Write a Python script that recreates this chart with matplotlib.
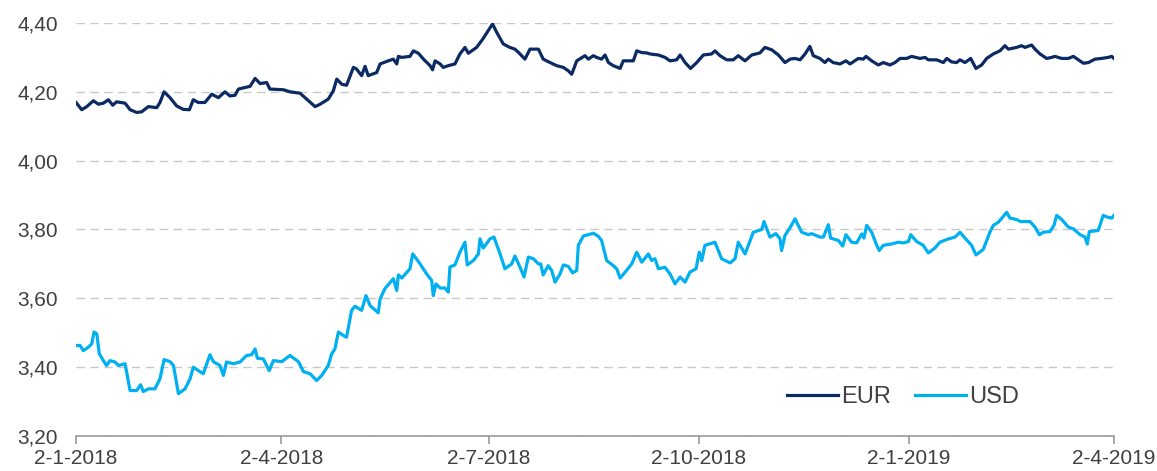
import matplotlib
matplotlib.use("Agg")
import matplotlib.pyplot as plt
import matplotlib.ticker as mticker
import pandas as pd

start_date = "2018-01-02"

eur_days = [0, 2.5, 4.7, 7.6, 9.8, 12.0, 14.2, 16.1, 17.8, 21.5, 23.7, 26.6, 28.8, 31.7, 35.4, 36.8,
            38.6, 41.2, 44.1, 47.0, 49.7, 51.4, 53.6, 56.5, 59.5, 62.4, 65.3, 67.5, 69.7, 71.2, 76.3,
            78.5, 80.7, 83.6, 85.0, 90.9, 93.8, 98.2, 101.1, 104.8, 107.0, 110.6, 112.8, 114.3, 116.5,
            118.6, 121.6, 123.0, 125.2, 126.7, 128.1, 131.8, 133.3, 136.9, 139.1, 140.6, 141.3, 142.8,
            146.4, 147.9, 150.1, 152.3, 155.2, 156.3, 157.4, 159.6, 161.0, 163.2, 166.1, 168.3, 170.5,
            172.0, 175.6, 178.5, 180.7, 182.6, 184.4, 187.3, 190.2, 192.4, 193.9, 196.8, 199.0, 202.7,
            204.8, 207.8, 210.7, 213.6, 215.8, 217.3, 219.5, 223.1, 224.6, 226.8, 228.2, 230.4, 231.9,
            233.4, 235.5, 238.5, 239.9, 244.3, 245.8, 248.0, 250.2, 251.6, 255.3, 258.2, 260.4, 263.3,
            264.8, 267.0, 269.4, 272.1, 275.0, 278.6, 280.1, 282.3, 285.2, 288.1, 290.3, 293.3, 296.2,
            299.8, 302.0, 305.0, 307.9, 310.8, 313.0, 315.2, 317.4, 319.6, 321.7, 323.2, 326.1, 328.3,
            329.8, 331.9, 334.9, 337.5, 339.3, 340.7, 342.9, 345.1, 346.3, 348.8, 351.7, 353.9, 356.8,
            359.0, 361.2, 364.1, 366.3, 370.0, 372.2, 373.6, 377.3, 380.2, 381.7, 383.8, 386.0, 387.5,
            389.7, 392.2, 394.5, 397.0, 399.2, 402.1, 405.0, 407.2, 408.7, 412.3, 414.5, 416.0, 418.9,
            420.4, 422.6, 425.5, 427.7, 429.1, 432.1, 435.0, 437.2, 439.4, 441.6, 443.8, 446.7, 449.6,
            452.5, 454.0, 455.0]
eur_values = [4.169, 4.148, 4.157, 4.174, 4.164, 4.167, 4.177, 4.161, 4.171, 4.167, 4.148, 4.140, 4.142,
              4.157, 4.154, 4.169, 4.200, 4.183, 4.159, 4.149, 4.148, 4.177, 4.169, 4.169, 4.193, 4.183,
              4.200, 4.188, 4.190, 4.208, 4.216, 4.239, 4.224, 4.227, 4.208, 4.206, 4.200, 4.196, 4.179,
              4.157, 4.164, 4.179, 4.203, 4.237, 4.222, 4.219, 4.271, 4.266, 4.247, 4.274, 4.247, 4.256,
              4.281, 4.290, 4.295, 4.281, 4.303, 4.300, 4.303, 4.319, 4.312, 4.295, 4.276, 4.264, 4.290,
              4.281, 4.271, 4.276, 4.281, 4.310, 4.329, 4.312, 4.329, 4.355, 4.378, 4.397, 4.373, 4.339,
              4.329, 4.324, 4.315, 4.295, 4.324, 4.324, 4.295, 4.285, 4.276, 4.271, 4.261, 4.251, 4.290,
              4.305, 4.295, 4.305, 4.300, 4.295, 4.307, 4.285, 4.276, 4.268, 4.290, 4.290, 4.319, 4.314,
              4.313, 4.310, 4.307, 4.300, 4.290, 4.293, 4.307, 4.285, 4.268, 4.285, 4.307, 4.310, 4.319,
              4.305, 4.293, 4.293, 4.305, 4.290, 4.307, 4.313, 4.329, 4.322, 4.307, 4.285, 4.295, 4.297,
              4.293, 4.310, 4.332, 4.305, 4.297, 4.285, 4.295, 4.285, 4.281, 4.290, 4.281, 4.287, 4.297,
              4.295, 4.303, 4.290, 4.278, 4.285, 4.278, 4.285, 4.297, 4.297, 4.303, 4.297, 4.300, 4.293,
              4.293, 4.285, 4.297, 4.287, 4.285, 4.293, 4.285, 4.297, 4.268, 4.278, 4.297, 4.310, 4.319,
              4.334, 4.324, 4.329, 4.334, 4.329, 4.336, 4.324, 4.310, 4.297, 4.300, 4.303, 4.297, 4.297,
              4.303, 4.293, 4.283, 4.285, 4.295, 4.297, 4.300, 4.303, 4.297]

usd_days = [0, 1.8, 3.2, 5.4, 6.9, 7.9, 9.1, 10.2, 12.0, 13.4, 14.9, 17.1, 18.6, 21.5, 23.7, 26.6, 28.3,
            29.5, 31.7, 34.6, 36.8, 38.6, 41.2, 42.7, 44.9, 47.8, 50.0, 51.4, 53.6, 55.8, 58.7, 60.2,
            63.1, 64.6, 66.0, 69.0, 71.9, 74.8, 77.0, 78.5, 79.5, 82.1, 84.7, 86.5, 90.2, 93.8, 97.5,
            99.7, 102.6, 105.5, 107.7, 110.6, 112.1, 113.5, 115.0, 117.2, 118.6, 120.8, 122.3, 125.2,
            127.1, 128.9, 132.5, 133.3, 135.4, 139.1, 140.6, 141.3, 142.8, 146.4, 147.6, 150.1, 153.7,
            155.9, 156.6, 157.8, 159.6, 161.7, 163.2, 163.9, 166.1, 168.3, 170.5, 171.5, 174.2, 176.4,
            177.1, 178.5, 181.5, 183.2, 185.9, 188.0, 191.0, 192.4, 194.6, 196.4, 198.3, 200.5, 202.7,
            203.7, 204.8, 207.0, 208.5, 210.0, 212.2, 213.6, 215.8, 217.7, 219.5, 220.2, 222.4, 224.6,
            226.8, 229.0, 230.4, 232.6, 235.5, 237.0, 238.5, 240.7, 243.6, 245.8, 248.0, 250.9, 252.3,
            253.8, 255.3, 258.2, 260.4, 262.6, 264.8, 267.0, 269.1, 271.8, 273.2, 274.3, 275.7, 280.1,
            283.0, 286.7, 288.9, 290.3, 293.3, 296.9, 300.6, 301.6, 304.2, 306.8, 308.6, 309.3, 310.8,
            312.7, 315.2, 318.1, 321.0, 322.5, 326.1, 327.6, 329.8, 330.8, 334.2, 336.1, 337.5, 340.0,
            342.2, 344.4, 345.4, 346.6, 348.8, 351.0, 352.1, 353.9, 357.5, 360.5, 362.7, 364.9, 365.9,
            368.5, 371.4, 373.6, 376.5, 378.7, 381.7, 385.3, 387.5, 389.7, 392.6, 394.5, 397.7, 400.6,
            402.1, 404.3, 406.2, 408.0, 409.4, 412.3, 414.1, 418.2, 420.4, 422.3, 424.0, 427.0, 428.7,
            429.9, 432.1, 435.0, 437.2, 440.1, 442.3, 443.3, 444.2, 448.1, 450.3, 452.1, 454.0, 455.0]
usd_values = [3.463, 3.463, 3.448, 3.458, 3.468, 3.502, 3.497, 3.439, 3.419, 3.405, 3.419, 3.415, 3.405,
              3.410, 3.332, 3.332, 3.349, 3.329, 3.337, 3.337, 3.366, 3.422, 3.416, 3.405, 3.323, 3.337,
              3.366, 3.400, 3.390, 3.381, 3.436, 3.416, 3.405, 3.376, 3.415, 3.410, 3.415, 3.434, 3.436,
              3.453, 3.426, 3.424, 3.390, 3.419, 3.416, 3.434, 3.416, 3.387, 3.381, 3.361, 3.376, 3.405,
              3.439, 3.453, 3.502, 3.492, 3.487, 3.565, 3.577, 3.565, 3.608, 3.579, 3.558, 3.598, 3.628,
              3.657, 3.623, 3.668, 3.659, 3.686, 3.729, 3.707, 3.671, 3.652, 3.608, 3.642, 3.630, 3.630,
              3.618, 3.691, 3.697, 3.734, 3.763, 3.697, 3.710, 3.729, 3.773, 3.746, 3.773, 3.778, 3.729,
              3.686, 3.700, 3.723, 3.691, 3.662, 3.720, 3.715, 3.700, 3.700, 3.668, 3.695, 3.681, 3.647,
              3.671, 3.697, 3.693, 3.674, 3.681, 3.754, 3.781, 3.785, 3.789, 3.780, 3.768, 3.710, 3.695,
              3.686, 3.659, 3.676, 3.700, 3.734, 3.705, 3.729, 3.710, 3.715, 3.686, 3.690, 3.671, 3.642,
              3.662, 3.647, 3.676, 3.686, 3.734, 3.710, 3.754, 3.763, 3.715, 3.703, 3.715, 3.763, 3.729,
              3.792, 3.800, 3.823, 3.778, 3.788, 3.773, 3.739, 3.783, 3.802, 3.831, 3.792, 3.785, 3.788,
              3.778, 3.778, 3.814, 3.775, 3.768, 3.752, 3.785, 3.763, 3.761, 3.787, 3.775, 3.812, 3.792,
              3.754, 3.739, 3.754, 3.758, 3.763, 3.761, 3.765, 3.785, 3.765, 3.754, 3.732, 3.746, 3.763,
              3.771, 3.778, 3.792, 3.775, 3.754, 3.726, 3.742, 3.792, 3.812, 3.821, 3.836, 3.850, 3.833,
              3.829, 3.823, 3.823, 3.807, 3.785, 3.792, 3.794, 3.812, 3.841, 3.829, 3.807, 3.802, 3.785,
              3.778, 3.758, 3.794, 3.797, 3.841, 3.836, 3.833, 3.841]

series_names = ["EUR", "USD"]
tick_dates = ["2018-01-02", "2018-04-02", "2018-07-02", "2018-10-02", "2019-01-02", "2019-04-02"]
tick_labels = ["2-1-2018", "2-4-2018", "2-7-2018", "2-10-2018", "2-1-2019", "2-4-2019"]
y_ticks = [3.20, 3.40, 3.60, 3.80, 4.00, 4.20, 4.40]

base = pd.Timestamp(start_date)
eur_x = base + pd.to_timedelta(eur_days, unit="D")
usd_x = base + pd.to_timedelta(usd_days, unit="D")

plt.rcParams["font.family"] = ["Liberation Sans", "DejaVu Sans"]
text_color = "#404040"

fig = plt.figure(figsize=(11.57, 4.71), dpi=100)
ax = fig.add_axes([0.0657, 0.0743, 0.8971, 0.8769])

ax.plot(eur_x, eur_values, color="#0b2a63", lw=2.3, label=series_names[0], solid_joinstyle="round")
ax.plot(usd_x, usd_values, color="#00b0f0", lw=2.3, label=series_names[1], solid_joinstyle="round")

ax.set_xlim(pd.Timestamp(tick_dates[0]), pd.Timestamp(tick_dates[-1]))
ax.set_ylim(y_ticks[0], y_ticks[-1])
ax.set_yticks(y_ticks)
ax.yaxis.set_major_formatter(mticker.FuncFormatter(lambda v, p: f"{v:.2f}".replace(".", ",")))
ax.set_xticks(pd.to_datetime(tick_dates))
ax.set_xticklabels(tick_labels)

ax.grid(axis="y", color="#c8c8c8", linestyle=(0, (6, 4)), linewidth=1.0)
ax.set_axisbelow(True)
for s in ["top", "right", "left"]:
    ax.spines[s].set_visible(False)
ax.spines["bottom"].set_color("#9a9a9a")
ax.spines["bottom"].set_linewidth(1.2)

ax.tick_params(axis="x", colors="#9a9a9a", length=6, width=1.2, labelcolor=text_color,
               labelsize=15, pad=3)
ax.tick_params(axis="y", length=0, labelcolor=text_color, labelsize=15, pad=13)

leg = ax.legend(loc="center", bbox_to_anchor=(0.797, 0.094), ncol=2, frameon=False,
                fontsize=17, handlelength=2.15, handletextpad=0.15, columnspacing=1.0)
for t in leg.get_texts():
    t.set_color(text_color)

fig.savefig("out.png", dpi=100)
